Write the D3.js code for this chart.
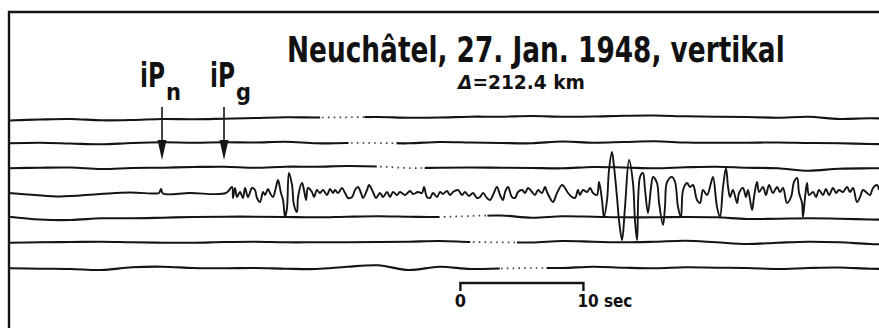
<!DOCTYPE html>
<html>
<head>
<meta charset="utf-8">
<script src="https://cdn.jsdelivr.net/npm/d3@7"></script>
<style>
  body { margin: 0; background: #fff; }
  text { font-family: "DejaVu Sans Condensed", "DejaVu Sans", sans-serif; font-stretch: condensed; font-weight: bold; fill: #111; }
</style>
</head>
<body>
<div id="plot"></div>
<script>
// record: seconds from left edge of the sheet, amplitudes in px-ish units (up = positive)
const gridTimes = [0, 2.5, 5, 7.5, 10, 12.5, 15, 17.5, 20, 22.5, 25, 27.5, 30, 32.5, 35,
  37.5, 40, 42.5, 45, 47.5, 50, 52.5, 55, 57.5, 60, 62.5, 65, 67.5, 70, 72.5];

// quiet drum lines (row number -> amplitudes on gridTimes)
const trace1 = [-2.5, -1.5, -1, -2.3, -2, -1, -1.3, -0.7, 0, 0.7, 0.5, 0.7, 1, 0.3, 0.5, 1.3, 1.3, 2, 1.3, 1.5, 2.3, 2.5, 1.7, 1.3, 1, 0.3, 1.3, -1, -0.3, -1];
const trace2 = [-0.3, 0.3, -0.5, -1.3, 0, 0.7, 0.3, 0.7, 0.5, 1.3, -0.3, 0, 0, -0.3, 1, 0.5, 0, -0.3, 1.5, 0.3, 1, 1.7, 0.5, 0.3, 0.3, 0.5, 0, -0.3, -1, -1.3];
const trace3 = [-0.3, 0.3, 0.5, -1, 0, 0.3, 1, 1.3, 0.3, 1.3, 1.3, 2, 1.5, 0, 0.3, 0.5, 0.3, 0, -0.3, 1, 0.5, -0.3, 0.7, 1.3, 0.3, -0.3, -2.7, -0.7, -0.3, -0.3];
const trace5 = [1.3, -1.5, -2, -0.3, -0.3, 0.3, 1, 1.3, 1.3, 1, 0.7, 1.3, 1.7, 1.3, 1, 2, 2.5, 0.3, 1.7, 1.3, 0.7, 0.7, 1, 0.7, -1, -0.7, -0.3, -0.7, -1.5, -2];
const trace6 = [0.3, 0.7, 1, 1.3, 0.7, 0.3, 0.3, 1, 1.3, 0.7, 0.7, 0.7, 1, 1.3, 2, 1, 0.7, 0.5, 2, 1.3, 0.7, 1.3, 2.3, 0.7, -1, 0.3, 1.3, 0.7, -1, -1.5];
const trace7 = [-0.3, -0.7, -1, -2, 0.7, 1.3, 0, -0.3, 0, -0.7, -1, 1.3, 2.7, -2, 1.3, -1, -0.5, 0, 0, 1.3, 0.3, -0.3, 0.7, 0.3, 0, -1, 0, 0.5, -0.7, -1];

// minute-mark gaps (start, end seconds) drawn dotted
const minuteGaps = [[25.3, 28.9], [27.6, 31.5], [29.9, 33.8], null, [35.0, 38.9], [37.5, 41.3], [39.9, 43.7]];

// the seismic line (row 4), turning points
const signalT = [0, 2.1, 4.15, 7.4, 9.84, 11.87, 12.2, 12.36, 12.52, 14.72, 17.64,
  18.13, 18.21, 18.37, 18.54, 18.78, 19.02, 19.19, 19.43, 19.76, 20.00, 20.16, 20.41, 20.65, 20.81, 21.06, 21.22, 21.46, 21.71, 21.87, 22.11,
  22.28, 22.44, 22.60, 22.76, 23.01, 23.17, 23.41, 23.50, 23.82, 23.98, 24.15, 24.31, 24.63, 24.80, 25.04, 25.28, 25.53, 25.85, 26.10, 26.34,
  26.50, 26.75, 27.07, 27.32, 27.56, 27.89, 28.13, 28.37, 28.62, 28.78, 29.11, 29.27, 29.59, 29.84, 30.16,
  30.41, 30.73, 30.98, 31.22, 31.54, 31.79, 32.20, 32.60, 32.85, 33.25, 33.58, 33.74, 33.98, 34.23, 34.47, 34.80, 35.04, 35.28, 35.61, 35.85,
  36.10, 36.50, 36.83, 37.07, 37.40, 37.72, 38.05, 38.29, 38.54, 38.86, 39.11, 39.35, 39.67, 39.92, 40.16, 40.33, 40.57, 40.89, 41.14, 41.38,
  41.71, 41.95, 42.20, 42.52, 42.76, 43.01, 43.33, 43.58, 43.74, 43.98, 44.23, 44.55, 44.96, 45.20, 45.45, 45.77, 46.02, 46.26,
  46.42, 46.67, 46.99, 47.24, 47.48, 47.80, 47.97, 48.21, 48.37, 48.62, 48.78, 49.02, 49.19, 49.43, 49.59, 49.84, 50.08, 50.41, 50.73, 50.89,
  51.06, 51.30, 51.54, 51.71, 51.95, 52.20, 52.36, 52.68, 52.85, 53.17, 53.33, 53.50, 53.90, 54.15, 54.39, 54.63, 54.80, 55.12, 55.37, 55.61,
  55.93, 56.18, 56.42, 56.75, 57.07, 57.24, 57.56, 57.80, 58.05, 58.29, 58.46,
  58.62, 58.86, 59.19, 59.35, 59.67, 59.92, 60.08, 60.41, 60.57, 60.81, 60.98, 61.30, 61.54, 61.79, 62.11, 62.44, 62.68, 62.93, 63.25, 63.58,
  63.82, 64.07, 64.23, 64.47, 64.55, 64.72, 64.88, 65.04, 65.37, 65.61, 65.85, 66.18, 66.42, 66.67, 66.99, 67.24, 67.48, 67.80, 68.13, 68.37,
  68.62, 68.94, 69.19, 69.43, 69.76, 70.00, 70.24, 70.57, 70.73];
const signalA = [0, -2, -3.5, -1, 0.5, -0.5, 0, 4, -0.5, 0, 0,
  6, -5, 5, -4, 1, -5, 5, -4, 5, 3, -5, -9, 1, -2, 4, 0, -4, 6, 13, 0,
  -7, -24, -15, 20, 8, -12, -19, -4, 10, 3, -7, 5, 1, -4, 3, 0, 3, -2, 4, 0,
  3, 0, 5, 0, -5, -4, 3, 6, 0, -5, 3, 8, 1, -5, 0,
  -4, 1, -4, 1, -2, 1, -2, 2, -1, 1, 0, 6, -4, -5, 0, -4, 1, -1, 2, -2,
  1, 3, -2, 1, -3, 0, -5, -4, 0, -5, -7, -2, 6, -2, -7, 1, 6, -4, -5, 1,
  3, 0, 5, 1, -2, 3, 0, 6, 1, -5, -9, 0, 8, 5, 0, -4, -5, 3,
  -2, 3, 1, 5, 0, -2, 11, -7, -24, -7, 23, 41, 26, -4, -27, -47, -14, 33, 10, -27,
  -47, 16, 20, 3, -20, 6, 16, 10, -10, -32, -14, 11, 16, 11, -14, -24, 3, 10, 6, 8,
  -7, -10, 3, -2, 10, 16, -14, -24, 6, 25, 6,
  -4, 3, -10, 0, 5, -4, 3, -17, -4, 11, 1, 6, -2, 8, 0, 6, 1, 5, -10, -4,
  11, 15, 0, -10, -24, -4, 10, -2, 1, -4, 3, -2, 4, -2, 5, 0, 3, 1, 6, 1,
  5, -9, -4, 3, 0, -2, 5, 8, 3];

const pickTimes = [12.44, 17.48];
const pickPhases = ["n", "g"];
const scaleBarSec = [0, 10];
const scaleBarStart = 36.7;   // seconds on the record where the bar begins

const titleText = "Neuchâtel, 27. Jan. 1948, vertikal";
const distanceText = "=212.4 km";

const W = 879, H = 328;
const svg = d3.select("#plot").append("svg")
  .attr("width", W).attr("height", H)
  .style("background", "#fff");

const x = d3.scaleLinear().domain([0, 70.73]).range([9, 879]);
const row = d3.scaleLinear().domain([1, 7]).range([118, 268]);
const amp = d3.scaleLinear().domain([-50, 50]).range([50, -50]);

const ink = "#141414";
const defs = svg.append("defs");

// squeeze a text horizontally so it spans `width` px from (tx, ty)
function fitText(sel, tx, ty, width) {
  const w = sel.node().getComputedTextLength();
  sel.attr("transform", `translate(${tx},${ty}) scale(${width / w},1)`);
  return sel;
}

// frame (top and left edge of the sheet)
svg.append("path")
  .attr("d", `M${x(0)},${H} V12 H${W}`)
  .attr("fill", "none").attr("stroke", ink).attr("stroke-width", 2.4);

// quiet lines
const quiet = [[1, trace1], [2, trace2], [3, trace3], [5, trace5], [6, trace6], [7, trace7]];
quiet.forEach(([r, vals]) => {
  const pts = gridTimes.map((t, j) => ({ t: t, a: vals[j] }));
  const line = d3.line()
    .x(d => x(d.t))
    .y(d => row(r) + amp(d.a))
    .curve(d3.curveCatmullRom);
  const gap = minuteGaps[r - 1];
  const y0 = row(r) - 12;

  const cs = defs.append("clipPath").attr("id", "solid" + r);
  cs.append("rect").attr("x", 0).attr("y", y0).attr("width", x(gap[0])).attr("height", 24);
  cs.append("rect").attr("x", x(gap[1])).attr("y", y0).attr("width", W - x(gap[1])).attr("height", 24);
  defs.append("clipPath").attr("id", "dot" + r)
    .append("rect").attr("x", x(gap[0])).attr("y", y0)
    .attr("width", x(gap[1]) - x(gap[0])).attr("height", 24);

  svg.append("path").datum(pts)
    .attr("d", line)
    .attr("clip-path", `url(#solid${r})`)
    .attr("fill", "none").attr("stroke", ink).attr("stroke-width", 2.1);
  svg.append("path").datum(pts)
    .attr("d", line)
    .attr("clip-path", `url(#dot${r})`)
    .attr("fill", "none").attr("stroke", "#444").attr("stroke-width", 1.7)
    .attr("stroke-dasharray", "1.6,4.2");
});

// seismic trace
const sig = signalT.map((t, j) => ({ t: t, a: signalA[j] }));
svg.append("path").datum(sig)
  .attr("d", d3.line()
    .x(d => x(d.t))
    .y(d => row(4) + amp(d.a))
    .curve(d3.curveCatmullRom.alpha(0.5)))
  .attr("fill", "none").attr("stroke", ink).attr("stroke-width", 1.9)
  .attr("stroke-linejoin", "round");

// phase picks
const labelShift = [-22, -14];
pickTimes.forEach((t, i) => {
  const px = x(t);
  svg.append("line")
    .attr("x1", px).attr("x2", px).attr("y1", 107).attr("y2", 145)
    .attr("stroke", ink).attr("stroke-width", 1.6);
  svg.append("path")
    .attr("d", `M${px - 4.5},140 L${px + 4.5},140 L${px},160 Z`)
    .attr("fill", ink);
  const lx = px + labelShift[i];
  fitText(svg.append("text").style("font-size", "34px").text("iP"), lx, 87, 25);
  fitText(svg.append("text").style("font-size", "23px").text(pickPhases[i]), lx + 26, 100, 15);
});

// title
fitText(svg.append("text").style("font-size", "35px").text(titleText), 287, 62, 498);

const sub = svg.append("text").style("font-size", "19px");
sub.append("tspan").style("font-style", "italic").text("Δ");
sub.append("tspan").text(distanceText);
fitText(sub, 458, 89, 127);

// time scale bar
const bx0 = x(scaleBarStart + scaleBarSec[0]);
const bx1 = x(scaleBarStart + scaleBarSec[1]);
svg.append("path")
  .attr("d", `M${bx0},291 V283 H${bx1} V291`)
  .attr("fill", "none").attr("stroke", ink).attr("stroke-width", 2.4);
svg.append("text")
  .attr("x", bx0).attr("y", 307).attr("text-anchor", "middle")
  .style("font-size", "18px").text(scaleBarSec[0]);
fitText(svg.append("text").style("font-size", "18px").text(scaleBarSec[1] + " sec"), bx1 - 6, 307, 55);
</script>
</body>
</html>
